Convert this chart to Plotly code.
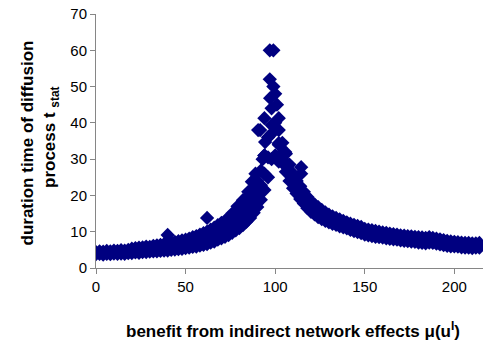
import plotly.graph_objects as go

# benefit from indirect network effects (x), sampled every 2 units
mu = list(range(0, 216, 2))

# lower, middle and upper runs of the simulated diffusion time
t_low = [3.8, 3.9, 3.7, 3.9, 3.8, 4.0, 3.9, 4.0, 3.9, 4.1,
         4.1, 4.3, 4.2, 4.4, 4.4, 4.5, 4.6, 4.6, 4.7, 4.8,
         4.8, 5.0, 5.1, 5.2, 5.3, 5.5, 5.6, 5.8, 5.9, 6.2,
         6.4, 6.6, 7.0, 7.3, 7.8, 8.2, 8.6, 9.1, 9.7, 10.4,
         11.0, 11.8, 12.8, 13.8, 15.2, 16.8, 18.8, 21.5, 25.0, 30.0,
         31.0, 30.5, 29.0, 26.5, 24.0, 22.0, 20.5, 19.0, 17.8, 16.5,
         15.5, 14.8, 14.0, 13.5, 13.0, 12.6, 12.2, 11.9, 11.5, 11.2,
         10.9, 10.5, 10.2, 9.9, 9.6, 9.2, 9.0, 8.8, 8.6, 8.5,
         8.4, 8.2, 8.0, 7.9, 7.8, 7.6, 7.5, 7.4, 7.3, 7.2,
         7.0, 6.9, 6.8, 7.0, 6.9, 6.7, 6.5, 6.3, 6.1, 6.0,
         6.0, 5.9, 5.7, 5.6, 5.6, 5.5, 5.6, 5.6]
t_mid = [4.1, 4.3, 4.1, 4.3, 4.2, 4.4, 4.3, 4.5, 4.4, 4.6,
         4.7, 4.9, 4.9, 5.1, 5.2, 5.2, 5.4, 5.4, 5.6, 5.7,
         5.8, 5.9, 6.2, 6.3, 6.5, 6.7, 6.9, 7.2, 7.3, 7.7,
         8.0, 8.3, 8.8, 9.2, 9.8, 10.3, 10.8, 11.5, 12.1, 12.9,
         13.6, 14.6, 15.7, 17.0, 18.5, 20.4, 22.8, 26.0, 30.5, 37.0,
         40.0, 34.0, 31.8, 29.0, 26.2, 24.0, 22.2, 20.8, 19.4, 18.0,
         16.9, 16.1, 15.4, 14.7, 14.1, 13.6, 13.2, 12.8, 12.4, 12.1,
         11.7, 11.3, 11.0, 10.7, 10.4, 10.0, 9.8, 9.6, 9.4, 9.2,
         9.1, 8.9, 8.7, 8.6, 8.5, 8.3, 8.2, 8.1, 8.0, 7.9,
         7.7, 7.6, 7.5, 7.7, 7.6, 7.4, 7.2, 7.0, 6.8, 6.6,
         6.6, 6.5, 6.3, 6.2, 6.2, 6.1, 6.2, 6.2]
t_high = [4.4, 4.6, 4.5, 4.7, 4.6, 4.8, 4.7, 4.9, 4.8, 5.0,
          5.3, 5.5, 5.6, 5.7, 5.9, 5.8, 6.1, 6.2, 6.4, 6.6,
          6.8, 6.9, 7.2, 7.4, 7.6, 7.8, 8.1, 8.5, 8.8, 9.2,
          9.6, 10.0, 10.6, 11.1, 11.8, 12.4, 13.0, 13.8, 14.5, 15.4,
          16.3, 17.4, 18.6, 20.1, 21.8, 24.0, 26.8, 31.0, 36.0, 44.0,
          48.0, 38.0, 34.5, 31.5, 28.5, 26.0, 24.0, 22.5, 21.0, 19.6,
          18.3, 17.5, 16.8, 16.0, 15.3, 14.7, 14.2, 13.8, 13.4, 13.0,
          12.6, 12.2, 11.9, 11.6, 11.3, 10.8, 10.6, 10.4, 10.2, 10.0,
          9.8, 9.7, 9.5, 9.3, 9.2, 9.0, 8.9, 8.8, 8.7, 8.6,
          8.5, 8.4, 8.3, 8.5, 8.3, 8.1, 7.9, 7.7, 7.5, 7.3,
          7.2, 7.1, 7.0, 6.9, 6.9, 6.8, 6.8, 6.9]

# isolated outlying runs
mu_extra = [40, 62, 82, 87, 90.5, 91.6, 94, 94.4, 94, 97, 99, 97, 99, 97.2,
            98, 101, 102, 102, 102, 105.6, 114.5, 114.5, 76, 79, 85, 89, 93]
t_extra = [9.1, 13.8, 18.7, 23.8, 38.0, 38.0, 41.3, 34.7, 31.0, 60.0, 60.0, 52.0, 50.0, 46.8,
           39.4, 45.0, 41.3, 34.4, 29.3, 32.0, 27.8, 26.0, 15.0, 17.0, 21.0, 26.0, 30.0]

x_ticks = [0, 50, 100, 150, 200]
y_ticks = [0, 10, 20, 30, 40, 50, 60, 70]

fig = go.Figure()
fig.add_trace(go.Scatter(
    x=mu + mu + mu + mu_extra,
    y=t_low + t_mid + t_high + t_extra,
    mode="markers",
    marker=dict(symbol="diamond", size=11, color="#000080", line=dict(width=0)),
    showlegend=False,
    hoverinfo="skip",
))

font = "Liberation Sans, Arial, sans-serif"
axis_col = "#868686"
title_size = 17

fig.update_layout(
    width=483, height=343,
    margin=dict(l=96, r=0, t=14, b=75),
    paper_bgcolor="white", plot_bgcolor="white",
    font=dict(family=font, size=15, color="black"),
    xaxis=dict(range=[0, 216], tickvals=x_ticks, showgrid=False, zeroline=False,
               showline=True, linecolor=axis_col, linewidth=1,
               ticks="outside", ticklen=5, tickcolor=axis_col,
               tickfont=dict(family=font, size=15, color="black")),
    yaxis=dict(range=[0, 70], tickvals=y_ticks, showgrid=False, zeroline=False,
               showline=True, linecolor=axis_col, linewidth=1,
               ticks="outside", ticklen=5, tickcolor=axis_col,
               tickfont=dict(family=font, size=15, color="black")),
    annotations=[
        dict(text="<b>duration time of diffusion</b>", textangle=-90,
             xref="paper", yref="paper", x=-(96 - 27) / 387, y=(268 - 143.5) / 254,
             xanchor="center", yanchor="middle", showarrow=False,
             font=dict(family=font, size=title_size, color="black")),
        dict(text="<b>process t <sub>stat</sub></b>", textangle=-90,
             xref="paper", yref="paper", x=-(96 - 51) / 387, y=(268 - 138) / 254,
             xanchor="center", yanchor="middle", showarrow=False,
             font=dict(family=font, size=title_size, color="black")),
        dict(text="<b>benefit from indirect network effects μ(u<sup>I</sup>)</b>",
             xref="paper", yref="paper", x=(293 - 96) / 387, y=-(330 - 268) / 254,
             xanchor="center", yanchor="middle", showarrow=False,
             font=dict(family=font, size=title_size, color="black")),
    ],
)

fig.write_html("out.html")
